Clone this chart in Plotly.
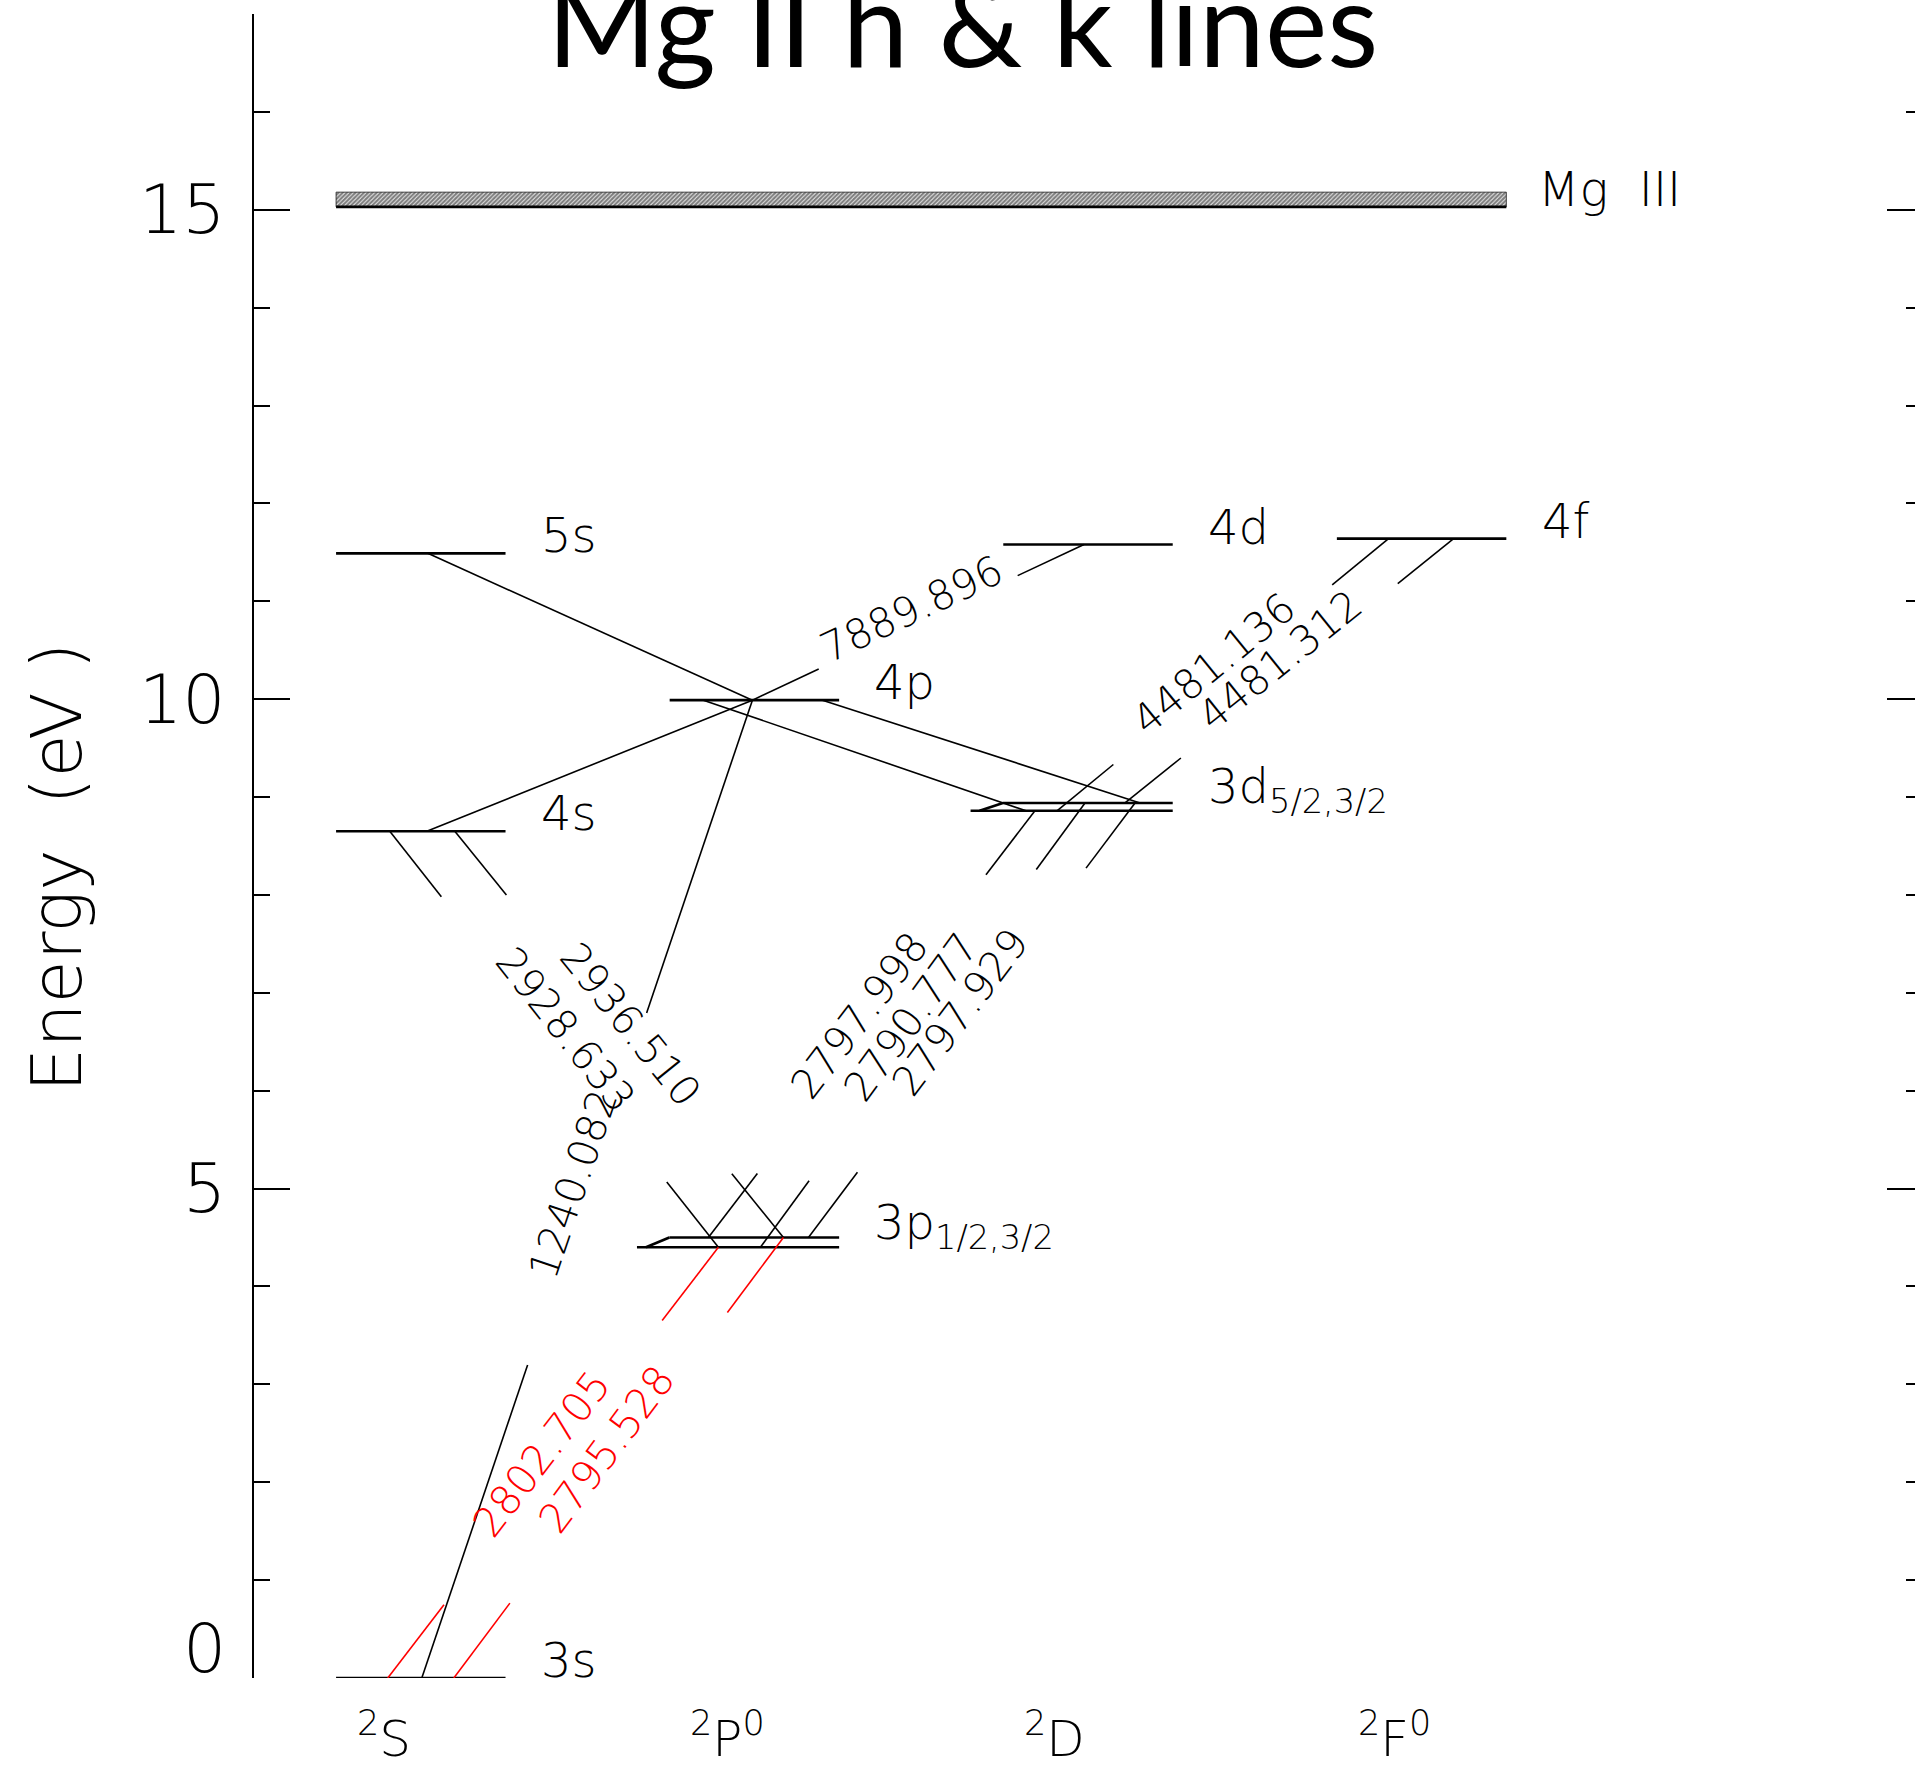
import math
import plotly.graph_objects as go

# ---------------- data ----------------
# term columns of the Grotrian diagram
term_names = ["2S", "2P", "2D", "2F"]
term_labels = ["<sup>2</sup>S", "<sup>2</sup>P<sup>0</sup>", "<sup>2</sup>D", "<sup>2</sup>F<sup>0</sup>"]

# energy levels of Mg II (eV)
level_names = ["3s", "4s", "5s", "3p1/2", "3p3/2", "4p", "3d5/2", "3d3/2", "4d", "4f"]
level_terms = ["2S", "2S", "2S", "2P", "2P", "2P", "2D", "2D", "2D", "2F"]
level_energy = [0.0, 8.65, 11.49, 4.40, 4.50, 9.99, 8.86, 8.94, 11.58, 11.64]

# ionisation limit (Mg III) and the hatched band above it
ion_name = "Mg\u00a0\u00a0III"
ion_energy = 15.03
ion_band_top = 15.18

# level captions (fine-structure pairs share one caption)
caption_level = ["3s", "4s", "5s", "3p1/2", "4p", "3d5/2", "4d", "4f"]
caption_text = ["3s", "4s", "5s", "3p<sub>1/2,3/2</sub>", "4p", "3d<sub>5/2,3/2</sub>", "4d", "4f"]

# radiative transitions: lower level, upper level, wavelength (Angstrom)
trans_lower = ["3s", "3s", "3s", "3p1/2", "3p3/2", "3p3/2", "3p1/2", "3p3/2",
               "4s", "4p", "3d5/2", "3d3/2", "4p", "3d5/2", "3d3/2"]
trans_upper = ["3p1/2", "3p3/2", "4p", "4s", "4s", "3d5/2", "3d3/2", "3d3/2",
               "4p", "5s", "4p", "4p", "4d", "4f", "4f"]
trans_label = ["2802.705", "2795.528", "1240.082", "2928.633", "2936.510",
               "2797.998", "2790.777", "2797.929", "", "", "", "",
               "7889.896", "4481.136", "4481.312"]
# the Mg II h & k resonance lines
hk_lines = ["2802.705", "2795.528"]

# energy axis
y_ticks = [0, 5, 10, 15]
y_axis_range = [0, 17]

# ---------------- drawing style ----------------
W, H = 1915, 1768
ML, MR, MT, MB = 254, 0, 14, 90
PLOT_W, PLOT_H = W - ML - MR, H - MT - MB
COL_PX = 333.6                      # pixels per term column
EV_PX = PLOT_H / (y_axis_range[1] - y_axis_range[0])
X_RANGE = [-0.5, -0.5 + PLOT_W / COL_PX]

HALF = 0.254                        # half width of a level bar
FS_LEFT = -0.352                    # left end of the lower fine-structure bar
FS_UPPER_LEFT = -0.255              # left end of the upper fine-structure bar
FS_JOIN = -0.325                    # foot of the connector between the two bars

# attachment offsets (column units) of each transition on its lower / upper bar
att_lower = [-0.099, 0.099, 0.003, -0.108, 0.087, -0.138, 0.018, 0.162,
             0.018, -0.006, -0.186, 0.156, -0.006, -0.093, 0.111]
att_upper = [-0.108, 0.087, -0.006, -0.093, 0.102, -0.159, -0.009, 0.141,
             -0.006, 0.021, -0.153, 0.204, -0.012, -0.099, 0.096]
# fraction of each transition drawn at either end (None = full line)
seg_frac = [0.17, 0.17, 0.32, 0.157, 0.157, 0.15, 0.15, 0.15,
            None, None, None, None, 0.2, 0.17, 0.17]

HFONT = "DejaVu Sans Light, DejaVu Sans, sans-serif"
LBL_SIZE = 41
LEVEL_SIZE = 48
TICK_SIZE = 68
RED = "#ff0000"

col_of = {t: i for i, t in enumerate(term_names)}
lev_x = {n: col_of[t] for n, t in zip(level_names, level_terms)}
lev_e = dict(zip(level_names, level_energy))

fig = go.Figure()

# ---------------- level bars ----------------
bx, by = [], []
pairs = {"3p1/2": "3p3/2", "3d5/2": "3d3/2"}
uppers = set(pairs.values())
for n in level_names:
    c, e = lev_x[n], lev_e[n]
    if n in pairs:
        eu = lev_e[pairs[n]]
        bx += [c + FS_LEFT, c + HALF, None, c + FS_UPPER_LEFT, c + HALF, None,
               c + FS_JOIN, c + FS_UPPER_LEFT, None]
        by += [e, e, None, eu, eu, None, e, eu, None]
    elif n in uppers:
        continue
    else:
        bx += [c - HALF, c + HALF, None]
        by += [e, e, None]
fig.add_trace(go.Scatter(x=bx, y=by, mode="lines", line=dict(color="black", width=2.6),
                         hoverinfo="skip", showlegend=False))

# ---------------- ionisation limit ----------------
x0 = col_of["2S"] - HALF
x1 = col_of["2F"] + HALF
fig.add_trace(go.Scatter(x=[x0, x1, x1, x0, x0],
                         y=[ion_energy, ion_energy, ion_band_top, ion_band_top, ion_energy],
                         mode="lines", fill="toself", line=dict(color="rgba(0,0,0,0.7)", width=1),
                         fillcolor="white",
                         fillpattern=dict(shape="/", fgcolor="black", bgcolor="white", size=3, solidity=0.75),
                         hoverinfo="skip", showlegend=False))
fig.add_trace(go.Scatter(x=[x0, x1], y=[ion_energy, ion_energy], mode="lines",
                         line=dict(color="black", width=2.8), hoverinfo="skip", showlegend=False))

# ---------------- transitions ----------------
annotations = []
lines = {"black": ([], []), RED: ([], [])}
for i in range(len(trans_lower)):
    lo, up, lab = trans_lower[i], trans_upper[i], trans_label[i]
    color = RED if lab in hk_lines else "black"
    xl, el = lev_x[lo] + att_lower[i], lev_e[lo]
    xu, eu = lev_x[up] + att_upper[i], lev_e[up]
    xs, ys = lines[color]
    f = seg_frac[i]
    if f is None:
        xs += [xl, xu, None]
        ys += [el, eu, None]
    else:
        dx, de = xu - xl, eu - el
        xs += [xl, xl + f * dx, None, xu - f * dx, xu, None]
        ys += [el, el + f * de, None, eu - f * de, eu, None]
    if lab:
        dxp = (xu - xl) * COL_PX
        dyp = -(eu - el) * EV_PX
        if dxp < 0:
            dxp, dyp = -dxp, -dyp
        th = math.atan2(dyp, dxp)
        rise = 0.35 * LBL_SIZE
        annotations.append(dict(
            x=(xl + xu) / 2, y=(el + eu) / 2, xref="x", yref="y", text=lab,
            textangle=math.degrees(th), showarrow=False, xanchor="center", yanchor="middle",
            xshift=rise * math.sin(th), yshift=rise * math.cos(th),
            font=dict(family=HFONT, size=LBL_SIZE, color=color)))

for color, (xs, ys) in lines.items():
    fig.add_trace(go.Scatter(x=xs, y=ys, mode="lines", line=dict(color=color, width=1.6),
                             hoverinfo="skip", showlegend=False))

# ---------------- level captions ----------------
for n, txt in zip(caption_level, caption_text):
    annotations.append(dict(
        x=lev_x[n] + HALF + 0.1, y=lev_e[n], xref="x", yref="y", text=txt, showarrow=False,
        xanchor="left", yanchor="bottom", yshift=-12,
        font=dict(family=HFONT, size=LEVEL_SIZE, color="black")))
annotations.append(dict(
    x=x1 + 0.09, y=ion_energy, xref="x", yref="y", text=ion_name, showarrow=False,
    xanchor="left", yanchor="bottom", yshift=-12,
    font=dict(family=HFONT, size=LEVEL_SIZE, color="black")))

# term labels below the diagram
for i, t in enumerate(term_labels):
    annotations.append(dict(
        x=i, y=0, xref="x", yref="paper", text=t, showarrow=False,
        xanchor="left", yanchor="top", xshift=-66, yshift=-23,
        font=dict(family=HFONT, size=50, color="black")))

# energy tick labels (the lowest one is kept inside the axis span)
for v in y_ticks:
    at_bottom = v == y_axis_range[0]
    annotations.append(dict(
        x=0, y=v, xref="paper", yref="y", text=str(v), showarrow=False,
        xanchor="right", yanchor="bottom" if at_bottom else "middle",
        xshift=-26, yshift=-12 if at_bottom else 0,
        font=dict(family=HFONT, size=TICK_SIZE, color="black")))

# axis title
annotations.append(dict(
    x=(57 - ML) / PLOT_W, y=(H - MB - 867) / PLOT_H, xref="paper", yref="paper",
    text="Energy\u00a0 (eV\u00a0)", textangle=-90, showarrow=False, xanchor="center", yanchor="middle",
    font=dict(family=HFONT, size=70, color="black")))

# title
annotations.append(dict(
    x=(962 - ML) / PLOT_W, y=(H - MB - 62) / PLOT_H, xref="paper", yref="paper",
    text="Mg II h &amp; k lines", showarrow=False, xanchor="center", yanchor="bottom", yshift=-32,
    font=dict(family="Gill Sans, Lato, sans-serif", size=118, color="black")))

# right-hand tick marks
fig.add_trace(go.Scatter(x=[None], y=[None], yaxis="y2", hoverinfo="skip", showlegend=False))

fig.update_layout(
    width=W, height=H, margin=dict(l=ML, r=MR, t=MT, b=MB, autoexpand=False),
    paper_bgcolor="white", plot_bgcolor="white", showlegend=False,
    annotations=annotations,
    xaxis=dict(range=X_RANGE, showline=False, showgrid=False, zeroline=False,
               showticklabels=False, ticks=""),
    yaxis=dict(range=y_axis_range, tickmode="array", tickvals=y_ticks, ticks="inside",
               ticklen=36, tickwidth=2, tickcolor="black", showline=True, linewidth=2,
               linecolor="black", showgrid=False, zeroline=False, showticklabels=False,
               minor=dict(dtick=1, tick0=0, ticks="inside", ticklen=16, tickwidth=2,
                          tickcolor="black", showgrid=False)),
    yaxis2=dict(range=y_axis_range, overlaying="y", side="right", anchor="x", tickmode="array",
                tickvals=y_ticks, ticks="inside", ticklen=28, tickwidth=2, tickcolor="black",
                showline=False, showgrid=False, zeroline=False, showticklabels=False,
                minor=dict(dtick=1, tick0=0, ticks="inside", ticklen=9, tickwidth=2,
                           tickcolor="black", showgrid=False)),
)

fig.write_html("out.html")
